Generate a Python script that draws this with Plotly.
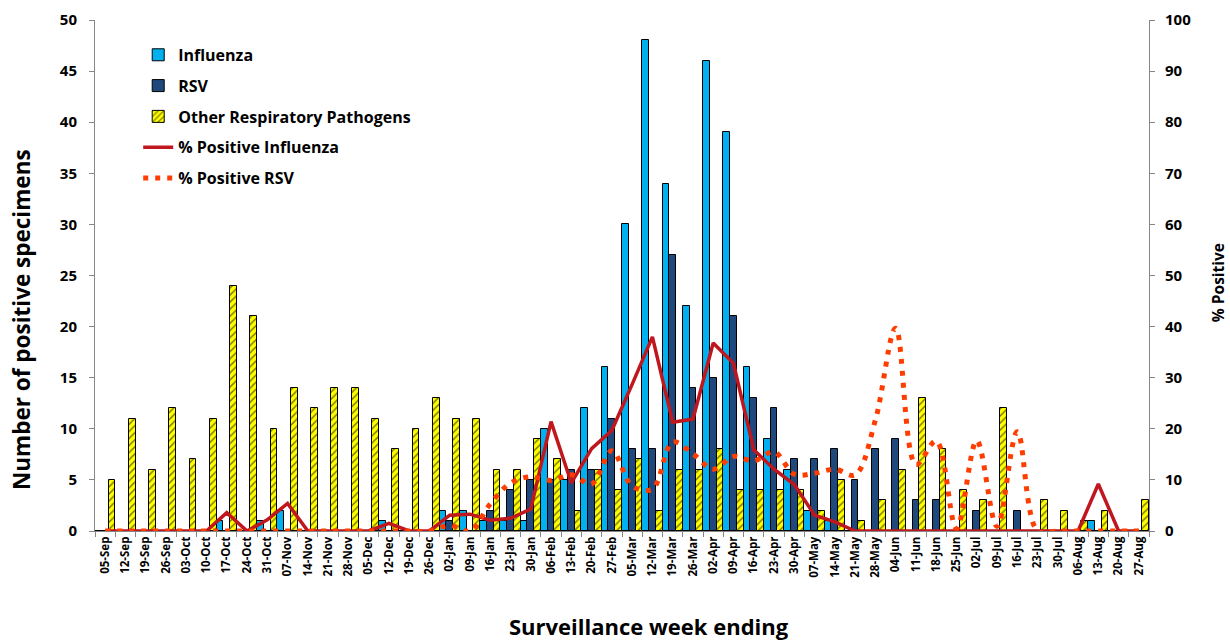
import plotly.graph_objects as go

weeks = ["05-Sep","12-Sep","19-Sep","26-Sep","03-Oct","10-Oct","17-Oct","24-Oct","31-Oct","07-Nov",
         "14-Nov","21-Nov","28-Nov","05-Dec","12-Dec","19-Dec","26-Dec","02-Jan","09-Jan","16-Jan",
         "23-Jan","30-Jan","06-Feb","13-Feb","20-Feb","27-Feb","05-Mar","12-Mar","19-Mar","26-Mar",
         "02-Apr","09-Apr","16-Apr","23-Apr","30-Apr","07-May","14-May","21-May","28-May","04-Jun",
         "11-Jun","18-Jun","25-Jun","02-Jul","09-Jul","16-Jul","23-Jul","30-Jul","06-Aug","13-Aug",
         "20-Aug","27-Aug"]

influenza = [0,0,0,0,0,0,1,0,1,2, 0,0,0,0,1,0,0,2,2,1, 1,1,10,5,12,16,30,48,34,22,
             46,39,16,9,6,2,1,0,0,0, 0,0,0,0,0,0,0,0,0,1, 0,0]
rsv = [0,0,0,0,0,0,0,0,0,0, 0,0,0,0,0,0,0,1,0,2, 4,5,5,6,6,11,8,8,27,14,
       15,21,13,12,7,7,8,5,8,9, 3,3,0,2,0,2,0,0,0,0, 0,0]
other = [5,11,6,12,7,11,24,21,10,14, 12,14,14,11,8,10,13,11,11,6, 6,9,7,2,6,4,7,2,6,6,
         8,4,4,4,4,2,5,1,3,6, 13,8,4,3,12,0,3,2,1,2, 0,3]
pct_flu = [0,0,0,0,0,0,3.6,0,2.2,5.4, 0,0,0,0,1.5,0,0,3.1,3.3,2.1,
           2.5,4.3,21.4,9.4,16.1,19.7,28.7,38,21.3,21.9,
           36.8,32.8,15.9,12.1,9.1,3.1,1.8,0,0,0, 0,0,0,0,0,0,0,0,0,9.2, 0,0]
pct_rsv = [0,0,0,0,0,0,0,0,0,0, 0,0,0,0,0,0,0,1.1,0,5.3,
           9.4,10.6,9.9,11,9.2,15.7,8.8,8.2,17.4,15.1,
           12.1,14.6,13.7,15.5,11.1,11.3,12.1,11,21.7,39.7,
           13,17.6,0.5,17.7,0.9,19.4,0,0,0,0, 0,0]

FONT = "Open Sans"
fig = go.Figure()
fig.add_trace(go.Bar(x=weeks, y=influenza, name="Influenza", legendgroup="a",
                     marker=dict(color="#00B0F0", line=dict(color="black", width=1))))
fig.add_trace(go.Bar(x=weeks, y=rsv, name="RSV", legendgroup="b",
                     marker=dict(color="#1F497D", line=dict(color="black", width=1))))
fig.add_trace(go.Bar(x=weeks, y=other, name="Other Respiratory Pathogens", legendgroup="c",
                     marker=dict(color="#FFFF00", line=dict(color="black", width=1),
                                 pattern=dict(shape="/", fgcolor="black", bgcolor="#FFFF00",
                                              size=5, solidity=0.3))))
fig.add_trace(go.Scatter(x=weeks, y=pct_flu, name="% Positive Influenza", legendgroup="d",
                         yaxis="y2", mode="lines",
                         line=dict(color="#C0171E", width=3.5)))
fig.add_trace(go.Scatter(x=weeks, y=pct_rsv, name="% Positive RSV", legendgroup="e",
                         yaxis="y2", mode="lines",
                         line=dict(color="#FF3D00", width=5, dash="5px,7px",
                                   shape="spline", smoothing=1)))

axis_common = dict(showgrid=False, zeroline=False, showline=True, linecolor="#868686",
                   linewidth=1, ticks="outside", ticklen=5, tickcolor="#868686",
                   automargin=False,
                   tickfont=dict(family=FONT, size=15, color="black", weight="bold"))

fig.update_layout(
    width=1230, height=643,
    margin=dict(l=95, r=81, t=20, b=112, autoexpand=False),
    paper_bgcolor="white", plot_bgcolor="white",
    barmode="group", bargap=0.0, bargroupgap=0.0,
    font=dict(family=FONT, color="black"),
    xaxis=dict(showgrid=False, zeroline=False, showline=True, linecolor="#868686",
               ticks="outside", ticklen=5, tickcolor="#868686", tickson="boundaries",
               automargin=False,
               tickangle=-90, tickfont=dict(family=FONT, size=11.5, color="black", weight="bold")),
    yaxis=dict(range=[0, 50], dtick=5, ticklabelstandoff=9, **axis_common),
    yaxis2=dict(range=[0, 100], dtick=10, overlaying="y", side="right",
                ticklabelstandoff=7, **axis_common),
    legend=dict(x=0.041, y=0.965, xanchor="left", yanchor="top",
                bgcolor="rgba(0,0,0,0)", traceorder="grouped", tracegroupgap=7,
                font=dict(family=FONT, size=16, color="black", weight="bold")),
    showlegend=True,
    annotations=[
        dict(text="Surveillance week ending", xref="paper", yref="paper", x=0.526, y=0,
             yshift=-95, xanchor="center", yanchor="middle", showarrow=False,
             font=dict(family=FONT, size=22, color="black", weight="bold")),
        dict(text="Number of positive specimens", xref="paper", yref="paper", x=0, y=0.413,
             xshift=-73, textangle=-90, xanchor="center", yanchor="middle", showarrow=False,
             font=dict(family=FONT, size=22.5, color="black", weight="bold")),
        dict(text="% Positive", xref="paper", yref="paper", x=1, y=0.485,
             xshift=69, textangle=-90, xanchor="center", yanchor="middle", showarrow=False,
             font=dict(family=FONT, size=15.5, color="black", weight="bold")),
    ],
)

fig.write_html("out.html", config={"displayModeBar": False},
               post_script="document.body.style.margin='0px';document.body.style.overflow='hidden';")
